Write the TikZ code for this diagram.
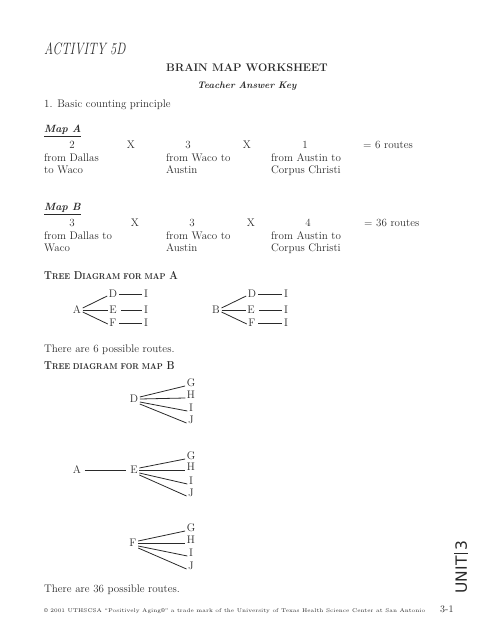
\documentclass[tikz,border=0pt]{standalone}
\usepackage{fontspec}
\usepackage{graphicx}
\newfontfamily\unitfont{DejaVu Sans}
\definecolor{ink}{HTML}{2A2A2A}
\begin{document}
\begin{tikzpicture}[x=1pt,y=-1pt,
  txt/.style={anchor=west,inner sep=0pt,text height=0.7em,text depth=0pt,text=ink,font=\fontsize{11}{13}\selectfont},
  num/.style={txt,anchor=center},
  ctr/.style={txt,anchor=center},
  lt/.style={inner sep=1.5pt,text=ink,font=\fontsize{11}{13}\selectfont,text height=0.7em,text depth=0pt},
  br/.style={draw=ink,line width=0.8pt}]
\useasboundingbox (0,0) rectangle (495,640);
% header
\node[txt,font=\fontsize{16.5}{18}\selectfont\itshape] (title) at (44,51) {\scalebox{0.75}[1]{ACTIVITY 5D}};
\node[ctr,font=\fontsize{11}{13}\selectfont\bfseries] (sub) at (247,68) {BRAIN MAP WORKSHEET};
\node[ctr,font=\fontsize{9.5}{11}\selectfont\bfseries\itshape] (key) at (247,85) {Teacher Answer Key};
\node[txt] (p1) at (44,104) {1. Basic counting principle};
% Map A
\node[txt,font=\fontsize{10.5}{12}\selectfont\bfseries\itshape] (mapA) at (44,129) {\underline{Map A}};
\node[num] (a1) at (72,145) {2};
\node[num] (ax1) at (131,145) {X};
\node[num] (a2) at (188,145) {3};
\node[num] (ax2) at (247,145) {X};
\node[num] (a3) at (305,145) {1};
\node[txt] (ares) at (363,145) {= 6 routes};
\node[txt] (a1l1) at (44,158) {from Dallas};
\node[txt] (a1l2) at (44,170) {to Waco};
\node[txt] (a2l1) at (166,158) {from Waco to};
\node[txt] (a2l2) at (166,170) {Austin};
\node[txt] (a3l1) at (271,158) {from Austin to};
\node[txt] (a3l2) at (271,170) {Corpus Christi};
% Map B
\node[txt,font=\fontsize{10.5}{12}\selectfont\bfseries\itshape] (mapB) at (44,207) {\underline{Map B}};
\node[num] (b1) at (72,223) {3};
\node[num] (bx1) at (135,223) {X};
\node[num] (b2) at (192,223) {3};
\node[num] (bx2) at (251,223) {X};
\node[num] (b3) at (308,223) {4};
\node[txt] (bres) at (364,223) {= 36 routes};
\node[txt] (b1l1) at (44,236) {from Dallas to};
\node[txt] (b1l2) at (44,248) {Waco};
\node[txt] (b2l1) at (166,236) {from Waco to};
\node[txt] (b2l2) at (166,248) {Austin};
\node[txt] (b3l1) at (271,236) {from Austin to};
\node[txt] (b3l2) at (271,248) {Corpus Christi};
% Tree A heading
\node[txt,font=\fontsize{11.5}{13}\selectfont\bfseries] (thA) at (44,276) {\scalebox{0.87}[1]{T{\fontsize{8.5}{10}\selectfont REE} D{\fontsize{8.5}{10}\selectfont IAGRAM FOR MAP} A}};
% Tree A (left)
\node[lt] (tA) at (77,310) {A};
\node[lt] (tD) at (113,294) {D};
\node[lt] (tE) at (113,310) {E};
\node[lt] (tF) at (113,323) {F};
\node[lt] (tID) at (146,294) {I};
\node[lt] (tIE) at (146,310) {I};
\node[lt] (tIF) at (146,323) {I};
\draw[br] ([yshift=2pt]tA.east) -- ([yshift=-2pt]tD.west);
\draw[br] (tA.east) -- (tE.west);
\draw[br] ([yshift=-2pt]tA.east) -- ([yshift=-1pt]tF.west);
\draw[br] (tD.east) -- (tID.west);
\draw[br] ([xshift=3pt]tE.east) -- (tIE.west);
\draw[br] ([xshift=1pt]tF.east) -- (tIF.west);
% Tree A (right)
\node[lt] (uB) at (216,310) {B};
\node[lt] (uD) at (252,294) {D};
\node[lt] (uE) at (251,310) {E};
\node[lt] (uF) at (252,323) {F};
\node[lt] (uID) at (286,294) {I};
\node[lt] (uIE) at (286,310) {I};
\node[lt] (uIF) at (286,323) {I};
\draw[br] ([yshift=2pt]uB.east) -- ([yshift=-2pt]uD.west);
\draw[br] (uB.east) -- (uE.west);
\draw[br] ([yshift=-2pt]uB.east) -- ([yshift=-1pt]uF.west);
\draw[br] (uD.east) -- (uID.west);
\draw[br] ([xshift=3pt]uE.east) -- (uIE.west);
\draw[br] ([xshift=1pt]uF.east) -- (uIF.west);
\node[txt] (six) at (44,349) {There are 6 possible routes.};
% Tree B heading
\node[txt,font=\fontsize{11.5}{13}\selectfont\bfseries] (thB) at (44,366) {\scalebox{0.87}[1]{T{\fontsize{8.5}{10}\selectfont REE DIAGRAM FOR MAP} B}};
% Tree B
\node[lt] (vD) at (134,399) {D};
\node[lt] (vDG) at (191,383) {G};
\node[lt] (vDH) at (191,395) {H};
\node[lt] (vDI) at (191,408) {I};
\node[lt] (vDJ) at (191,420) {J};
\node[lt] (vA) at (77,470) {A};
\node[lt] (vE) at (134,470) {E};
\node[lt] (vEG) at (191,456) {G};
\node[lt] (vEH) at (191,467) {H};
\node[lt] (vEI) at (191,481) {I};
\node[lt] (vEJ) at (191,493) {J};
\node[lt] (vF) at (133,543) {F};
\node[lt] (vFG) at (191,528) {G};
\node[lt] (vFH) at (191,540) {H};
\node[lt] (vFI) at (191,553) {I};
\node[lt] (vFJ) at (191,566) {J};
\draw[br] ([xshift=2pt]vA.east) -- ([xshift=-3pt]vE.west);
\foreach \p in {vD,vE,vF}{
  \draw[br] ([yshift=2pt]\p.east) -- ([yshift=-3pt]\p G.west);
  \draw[br] (\p.east) -- ([yshift=-3pt]\p H.west);
  \draw[br] ([yshift=-3pt]\p.east) -- ([yshift=-3pt]\p I.west);
  \draw[br] ([yshift=-5pt]\p.east) -- ([yshift=-3pt]\p J.west);
}
\node[txt] (thirtysix) at (44,589) {There are 36 possible routes.};
% footer
\node[txt,font=\fontsize{5.4}{6}\selectfont] (foot) at (44,609) {\textcopyright\ 2001 UTHSCSA ``Positively Aging\textregistered'' a trade mark of the University of Texas Health Science Center at San Antonio};
\node[txt,font=\fontsize{10}{12}\selectfont] (pg) at (440,609) {3-1};
\node[rotate=90,inner sep=0pt,text=ink,font=\unitfont\fontsize{15.5}{17}\selectfont] (unit) at (461,567) {UNIT\,\rule[-0.05em]{0.7pt}{0.85em}\,3};
\end{tikzpicture}
\end{document}
